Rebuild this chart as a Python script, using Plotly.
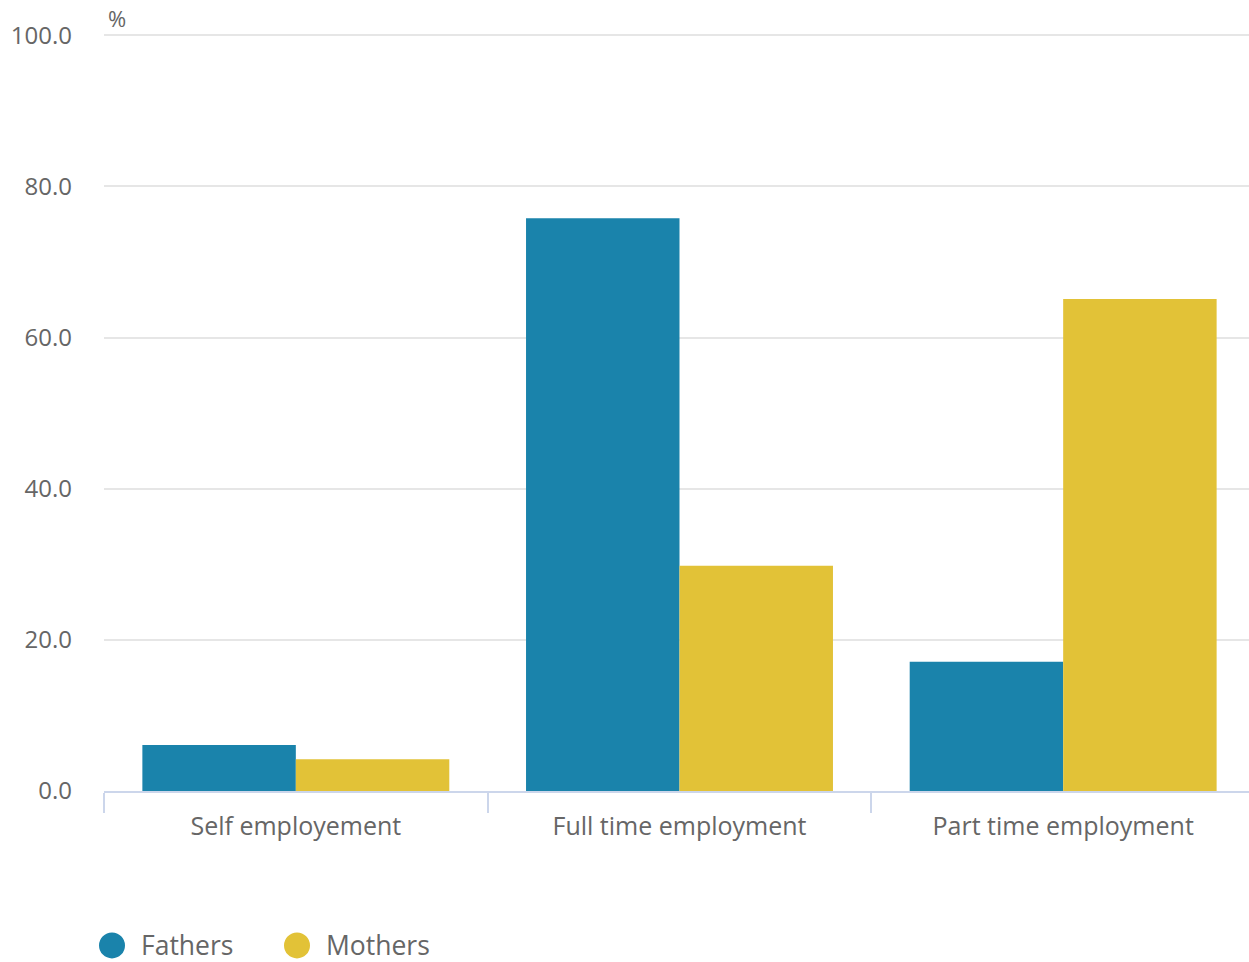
import plotly.graph_objects as go

categories = ["Self employement", "Full time employment", "Part time employment"]
fathers = [6.1, 75.8, 17.1]
mothers = [4.2, 29.8, 65.1]
series_names = ["Fathers", "Mothers"]
colors = ["#1a83ab", "#e2c237"]
y_ticks = [0, 20, 40, 60, 80, 100]

FONT = "Open Sans"
W = 1255
PW = W - 104
fig = go.Figure()
for name, vals, col in zip(series_names, [fathers, mothers], colors):
    fig.add_trace(go.Bar(name=name, x=categories, y=vals, marker=dict(color=col, line=dict(width=0)),
                         showlegend=False))

fig.update_layout(
    width=W, height=962,
    margin=dict(l=104, r=0, t=33, b=171),
    paper_bgcolor="white", plot_bgcolor="white",
    barmode="group", bargap=0.2, bargroupgap=0,
    font=dict(family=FONT, color="#666666"),
    showlegend=False,
)
fig.update_xaxes(
    showline=True, linecolor="#ccd6eb", linewidth=2,
    ticks="outside", tickson="boundaries", ticklen=20, tickcolor="#ccd6eb", tickwidth=2,
    tickfont=dict(size=25, color="#666666", family=FONT),
    ticklabelstandoff=12,
    showgrid=False,
)
fig.update_yaxes(
    range=[0, 100.3], tickvals=y_ticks, ticktext=[f"{v:.1f}" for v in y_ticks],
    showgrid=True, gridcolor="#e6e6e6", gridwidth=2, zeroline=False,
    tickfont=dict(size=24, color="#666666", family=FONT),
    ticklabelstandoff=31,
)
fig.add_annotation(text="%", xref="paper", yref="paper", x=13 / PW, y=1.0198,
                   xanchor="center", yanchor="middle", showarrow=False,
                   font=dict(size=22, color="#666666", family=FONT))

# custom legend with circular swatches
legend_px = [8, 193]
for name, col, px in zip(series_names, colors, legend_px):
    lx = px / PW
    fig.add_shape(type="circle", xref="paper", yref="paper", xsizemode="pixel", ysizemode="pixel",
                  xanchor=lx, yanchor=-0.2037, x0=-13, x1=13, y0=-13, y1=13,
                  fillcolor=col, line=dict(width=0))
    fig.add_annotation(text=name, xref="paper", yref="paper", x=(px + 27) / PW, y=-0.2037,
                       xanchor="left", yanchor="middle", showarrow=False,
                       font=dict(size=26.5, color="#666666", family=FONT))

fig.write_html("out.html", config={"displayModeBar": False},
               post_script="document.body.style.margin='0';document.body.style.overflow='hidden';")
